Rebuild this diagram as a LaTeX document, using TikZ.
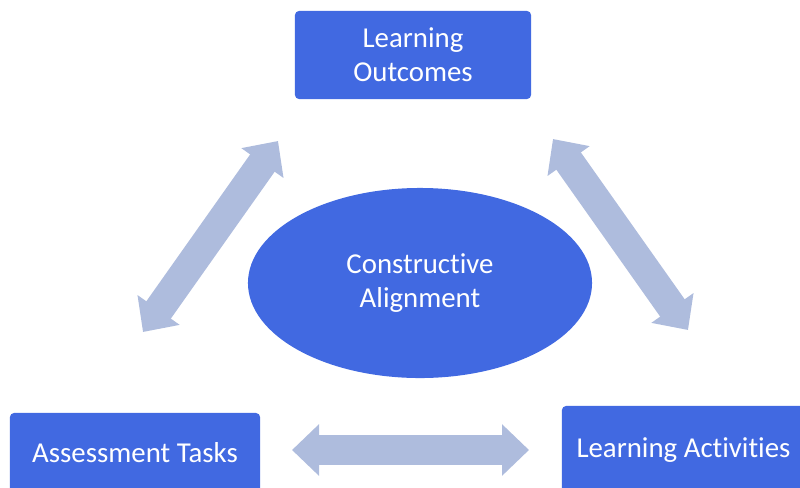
\documentclass[tikz,border=0pt]{standalone}
\usepackage{fontspec}
\setmainfont{Carlito}[Ligatures=CommonOff]
\usetikzlibrary{shapes.geometric,arrows.meta}
\definecolor{boxblue}{RGB}{65,105,225}
\definecolor{linkblue}{RGB}{174,188,221}
\begin{document}
\begin{tikzpicture}[x=0.025cm,y=-0.025cm,line join=round,>={Triangle[width=1.25cm,length=0.675cm]}]
	\tikzset{box/.style={fill=boxblue,rounded corners=0.1cm,minimum height=2.2cm,inner sep=0pt,text=white,align=center,font=\fontsize{20.5}{24}\selectfont},
		link/.style={<->,draw=linkblue,line width=0.75cm}}
	\useasboundingbox (0,0) rectangle (800,487);
	\clip (0,0) rectangle (800,487);
	\node[box,minimum width=5.9cm] (outcomes) at (413,55) {Learning\\Outcomes};
	\node[box,minimum width=6.25cm,minimum height=2cm] (tasks) at (135,453) {Assessment Tasks};
	\node[box,minimum width=6.075cm] (activities) at (683.5,450) {Learning Activities};
	\node[box,ellipse,rounded corners=0pt,minimum width=8.6cm,minimum height=4.75cm] (align) at (420,283) {Constructive\\Alignment};
	\coordinate (lt) at (278,141);
	\coordinate (lb) at (143,332);
	\coordinate (rt) at (553,139);
	\coordinate (rb) at (688,330);
	\coordinate (bl) at (292,450);
	\coordinate (br) at (529,450);
	\draw[link] (lt)--(lb);
	\draw[link] (rt)--(rb);
	\draw[link] (bl)--(br);
\end{tikzpicture}
\end{document}
